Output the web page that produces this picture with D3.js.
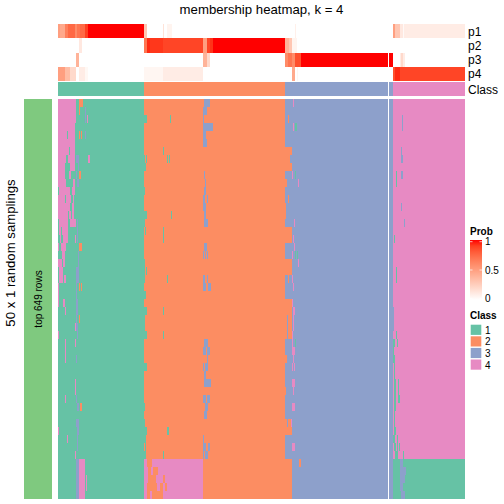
<!DOCTYPE html>
<html><head><meta charset="utf-8">
<script src="https://cdn.jsdelivr.net/npm/d3@7"></script>
<style>html,body{margin:0;padding:0;background:#fff}svg{display:block}text{font-family:"Liberation Sans",Arial,sans-serif;fill:#000}</style>
</head><body><svg id="c" width="504" height="504"></svg>
<script>
// sample axis: 407 sample columns, 50 random partitions
const classes=[1,2,3,4];
const classColors=["#66C2A5","#FC8D62","#8DA0CB","#E78AC3"];
const classRuns=[[0,86,1],[86,227,2],[227,335,3],[335,407,4]];
const gapColumn=[330,331];
const pNames=["p1","p2","p3","p4"];
// probability runs: [endColumn, value]
const p1=[[2,.5],[7,.45],[10,.65],[17,.75],[19,.6],[22,.7],[27,.75],[30,.9],[86,1],[89,.3],[105,0],[106,.15],[109,0],[114,.06],[237,0],[238,.08],[335,0],[337,.5],[342,.3],[345,.12],[346,.03],[407,.1]];
const p2=[[21,0],[24,.12],[86,0],[89,.7],[92,.95],[105,.92],[145,.88],[149,.5],[152,.88],[155,.93],[227,1],[231,.4],[234,.3],[239,.06],[407,0]];
const p3=[[18,0],[21,.4],[145,0],[149,.4],[152,.2],[227,0],[230,.6],[234,.7],[237,.6],[243,.85],[335,1],[342,0],[343,.1],[345,.2],[347,.1],[407,0]];
const p4=[[7,.5],[12,.35],[18,.2],[21,0],[27,.1],[30,.04],[86,0],[105,.05],[145,.1],[234,0],[237,.45],[239,0],[240,.05],[335,0],[337,.85],[342,.95],[407,.88]];
// class boundaries per partition row
const split12=[86,86,89,86,86,86,86,87,88,86,86,87,86,86,89,87,86,86,86,86,87,87,87,86,88,87,89,87,87,89,86,86,86,89,86,86,86,86,87,86,87,89,88,88,88,86,86,86,86,86];
const split23=[227,227,227,227,227,227,234,232,234,227,229,227,227,228,228,227,234,234,227,227,234,234,227,227,227,234,234,234,234,234,227,227,229,227,227,227,228,227,227,227,234,234,227,227,227,234,234,234,234,234];
const split34=335;
const lowerRows=[45,46,47,48,49];
// off-class marks: [row, from, to]
const pinkMarks=[[0,0,18],[1,0,18],[2,0,18],[3,0,17],[4,0,9],[4,10,17],[5,0,17],[6,0,11],[6,12,17],[7,0,8],[7,10,17],[8,0,7],[8,12,17],[9,0,7],[9,11,13],[10,0,8],[10,15,17],[11,1,12],[11,14,17],[12,0,7],[12,8,13],[12,15,16],[13,0,12],[13,14,16],[14,0,10],[14,11,13],[14,14,16],[15,1,10],[15,12,18],[16,1,3],[16,4,10],[17,2,3],[17,5,10],[17,17,18],[18,0,1],[18,3,8],[19,4,7],[20,0,4],[20,5,7],[21,1,5],[22,1,5],[22,6,8],[23,0,1],[24,0,1],[25,0,1],[25,5,7],[26,7,8],[28,17,18],[29,0,1],[30,7,8],[30,17,18],[31,7,8],[32,7,8],[35,17,18],[36,17,18],[37,7,8],[41,0,1],[42,9,10],[44,17,18],[2,29,30],[7,30,32],[47,28,29],[48,28,29],[45,21,27],[46,21,27],[47,21,27],[48,21,27],[49,21,27],
[45,86,89],[45,94,145],[46,86,90],[46,93,95],[46,100,145],[47,86,90],[47,98,105],[47,107,145],[48,86,89],[48,99,102],[48,105,107],[48,109,145],[49,86,89],[49,92,94],[49,105,145],
[0,235,236],[3,235,236],[9,234,235],[10,240,241],[15,236,237],[17,235,236],[18,236,237],[19,234,235],[20,240,241],[22,234,235],[23,235,236],[25,234,235],[26,235,237],[27,235,236],[28,235,236],[29,234,235],[30,234,235],[31,234,237],[32,235,236],[33,234,235],[33,236,237],[35,234,237],[36,235,236],[38,234,237],[40,233,234],[43,234,237]];
const orangeMarks=[[0,21,25],[1,21,22],[4,21,22],[4,23,24],[9,21,23],[18,21,24],[23,21,22],[23,23,24],[27,21,22],[38,22,24],[43,86,87],[25,86,87],[2,230,231],[12,230,231],[22,230,231],[45,241,243]];
const purpleMarks=[[1,27,28],[2,27,28],[4,27,28],[7,18,21],[8,20,21],[9,18,19],[10,19,21],[15,19,20],[16,19,20],[17,19,20],[19,20,21],[20,20,21],[21,18,21],[22,18,21],[23,18,19],[24,18,19],[25,18,20],[26,18,20],[27,18,19],[28,18,20],[29,19,20],[32,18,19],[37,18,19],[38,19,21],[40,18,21],[41,19,21],[42,19,20],[43,19,20],[45,18,21],[46,18,21],[47,18,21],[48,18,21],[49,18,21],
[0,146,152],[1,145,149],[2,145,146],[3,145,155],[4,145,148],[5,145,149],[9,146,147],[10,147,148],[11,146,148],[12,145,147],[12,149,150],[13,145,148],[14,146,148],[15,146,150],[18,146,149],[19,145,146],[19,147,148],[19,149,150],[22,145,147],[22,149,150],[23,145,148],[23,150,153],[30,146,150],[31,145,148],[31,149,152],[32,149,150],[33,145,146],[33,147,150],[34,146,148],[35,146,153],[37,145,148],[37,149,152],[38,147,150],[39,146,149],[42,145,146],[43,145,148],[43,150,152],[44,145,146],[44,147,150],[27,229,230],[28,229,230],[29,229,230],[40,229,230],
[2,344,345],[3,344,345],[6,343,344],[7,343,345],[9,343,345],[13,343,344],[15,346,347],[26,335,336],[27,335,336],[28,335,336],[45,342,345],[46,342,348],[47,342,347],[48,342,345],[49,343,347]];
const greenMarks=[[2,112,113],[6,105,106],[7,88,89],[7,109,110],[7,111,112],[14,113,114],[16,87,88],[16,105,106],[17,105,106],[21,88,89],[22,109,110],[26,105,106],[29,105,106],[41,109,111],[44,105,106],[3,237,239],[9,237,238],[19,237,238],[19,239,240],[30,237,238],
[9,338,339],[10,338,339],[17,336,337],[21,338,339],[22,338,339],[29,338,339],[30,335,337],[30,339,340],[31,335,336],[32,335,337],[33,336,337],[34,336,337],[35,336,338],[35,340,341],[36,336,338],[36,340,341],[37,336,338],[37,340,342],[38,336,338],[39,336,337],[40,336,337],[41,336,338],[42,335,337],[42,339,340],[43,336,338],[43,339,340],[43,341,342],[44,337,340],[44,345,346]];
const probTicks=[0,0.5,1];

const svg=d3.select("#c");
const x=d3.scaleLinear().domain([0,407]).range([58,465]);
const y=d3.scaleBand().domain(d3.range(50)).range([99,499]);
const annY=d3.scaleBand().domain(pNames).range([24,81]);
const prob=d3.scaleLinear().domain([0,1]).range(["#ffffff","#ff0000"]).interpolate(d3.interpolateLab);
const cls=d3.scaleOrdinal().domain(classes).range(classColors);
const crisp=g=>g.attr("shape-rendering","crispEdges");

svg.append("text").attr("x",261.5).attr("y",14).attr("text-anchor","middle").attr("font-size",13.2).text("membership heatmap, k = 4");

// probability strips
[p1,p2,p3,p4].forEach((runs,i)=>{
  const g=svg.append("g").call(crisp);
  let start=0;
  runs.forEach(([end,v])=>{
    g.append("rect").attr("x",x(start)).attr("width",x(end)-x(start)).attr("y",annY(pNames[i])).attr("height",annY.bandwidth()).attr("fill",prob(v));
    start=end;
  });
  svg.append("text").attr("x",468).attr("y",annY(pNames[i])+annY.bandwidth()/2+4.5).attr("font-size",12).text(pNames[i]);
});
// class strip
const classG=svg.append("g").call(crisp);
classRuns.forEach(([a,b,c])=>classG.append("rect").attr("x",x(a)).attr("width",x(b)-x(a)).attr("y",82).attr("height",14).attr("fill",cls(c)));
svg.append("text").attr("x",468).attr("y",93.5).attr("font-size",12).text("Class");

// membership matrix
const mat=svg.append("g").call(crisp);
const put=(r,a,b,c)=>mat.append("rect").attr("x",x(a)).attr("width",x(b)-x(a)).attr("y",y(r)).attr("height",y.bandwidth()).attr("fill",cls(c));
d3.range(50).forEach(r=>{
  const low=lowerRows.includes(r);
  put(r,0,split12[r],1);
  put(r,split12[r],split23[r],2);
  put(r,split23[r],split34,3);
  put(r,split34,407,low?1:4);
});
[[purpleMarks,3],[orangeMarks,2],[greenMarks,1],[pinkMarks,4]].forEach(([m,c])=>m.forEach(([r,a,b])=>put(r,a,b,c)));

// white gap through class strip and matrix
svg.append("rect").attr("x",x(gapColumn[0])).attr("width",x(gapColumn[1])-x(gapColumn[0])).attr("y",52).attr("height",447).attr("fill","#fff").call(crisp);

// left block
svg.append("rect").attr("x",24).attr("y",99).attr("width",28).attr("height",400).attr("fill","#7FC97F").call(crisp);
svg.append("text").attr("transform","translate(15,253) rotate(-90)").attr("text-anchor","middle").attr("font-size",13.2).text("50 x 1 random samplings");
svg.append("text").attr("transform","translate(41.5,299) rotate(-90)").attr("text-anchor","middle").attr("font-size",10).text("top 649 rows");

// Prob legend
svg.append("text").attr("x",470).attr("y",235).attr("font-size",10).attr("font-weight","bold").text("Prob");
const ly=d3.scaleLinear().domain([0,1]).range([298.3,241.7]);
const defs=svg.append("defs").append("linearGradient").attr("id","pg").attr("x1",0).attr("x2",0).attr("y1",1).attr("y2",0);
d3.range(0,1.01,0.1).forEach(t=>defs.append("stop").attr("offset",t).attr("stop-color",prob(t)));
svg.append("rect").attr("x",470).attr("y",240).attr("width",12).attr("height",60).attr("fill","url(#pg)");
probTicks.forEach(t=>{
  svg.append("line").attr("x1",470).attr("x2",472.5).attr("y1",ly(t)).attr("y2",ly(t)).attr("stroke","#fff").attr("stroke-width",.7);
  svg.append("line").attr("x1",479.5).attr("x2",482).attr("y1",ly(t)).attr("y2",ly(t)).attr("stroke","#fff").attr("stroke-width",.7);
  svg.append("text").attr("x",485).attr("y",ly(t)+3.6).attr("font-size",10).text(t);
});
// Class legend
svg.append("text").attr("x",470).attr("y",318.5).attr("font-size",10).attr("font-weight","bold").text("Class");
const lc=d3.scaleBand().domain(classes).range([324,370.4]);
classes.forEach(c=>{
  svg.append("rect").attr("x",470).attr("y",lc(c)).attr("width",12).attr("height",lc.bandwidth()).attr("fill","#fff");
  svg.append("rect").attr("x",470.7).attr("y",lc(c)+.7).attr("width",10.6).attr("height",lc.bandwidth()-1.4).attr("fill",cls(c));
  svg.append("text").attr("x",485).attr("y",lc(c)+lc.bandwidth()/2+4).attr("font-size",10).text(c);
});
</script></body></html>
